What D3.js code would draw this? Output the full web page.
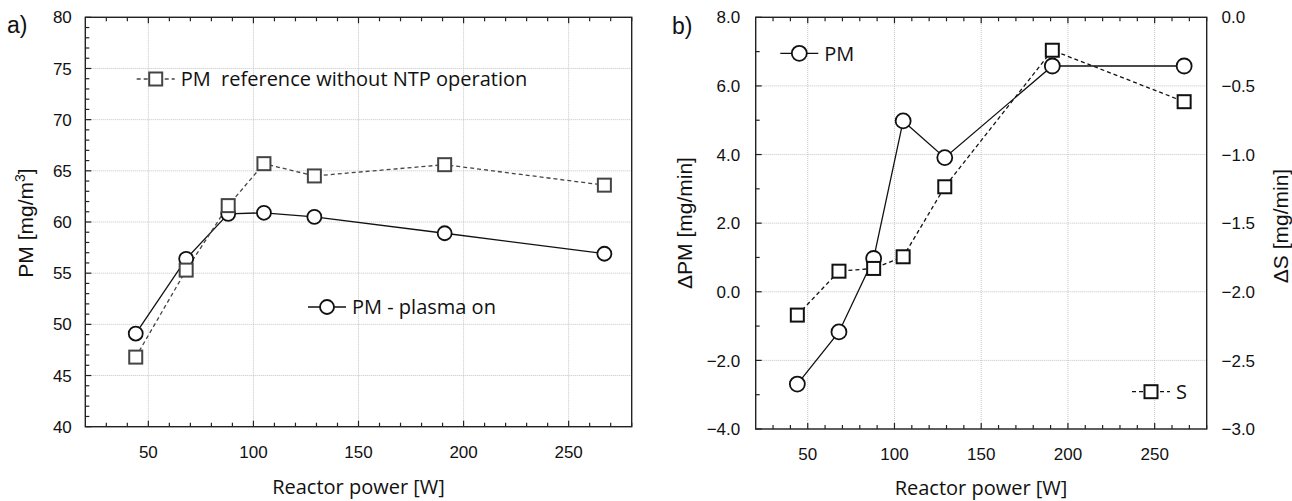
<!DOCTYPE html>
<html>
<head>
<meta charset="utf-8">
<script src="https://cdn.jsdelivr.net/npm/d3@7"></script>
<style>
  html, body { margin: 0; padding: 0; background: #fff; }
  svg { display: block; }
  .tick-label { font-family: "Liberation Sans", Arial, sans-serif; font-size: 17px; fill: #111; }
  .ytitle { font-family: "Liberation Sans", Arial, sans-serif; font-size: 21px; fill: #111; }
  .xtitle, .legend { font-family: "Open Sans", sans-serif; font-size: 20px; fill: #111; white-space: pre; }
  .panel { font-family: "Liberation Sans", Arial, sans-serif; font-size: 23px; fill: #111; }
</style>
</head>
<body>
<svg id="chart" width="1292" height="501"></svg>
<script>
// ---------- data ----------
const power = [44, 68, 88, 105, 129, 191, 267];
const pmReference = [46.8, 55.3, 61.6, 65.7, 64.5, 65.6, 63.6];
const pmPlasmaOn = [49.1, 56.4, 60.8, 60.9, 60.5, 58.9, 56.9];
const deltaPM = [-2.69, -1.17, 0.97, 4.98, 3.91, 6.58, 6.58];
const deltaS = [-2.17, -1.85, -1.83, -1.745, -1.235, -0.24, -0.615];

const xTicks = [50, 100, 150, 200, 250];
const yTicksA = [40, 45, 50, 55, 60, 65, 70, 75, 80];
const yTicksBLeft = [-4, -2, 0, 2, 4, 6, 8];
const yTicksBRight = [-3, -2.5, -2, -1.5, -1, -0.5, 0];

const svg = d3.select("#chart");

function drawPanel(opts) {
  const { x, y, yTicks, yFmt, yMinor, labelGapL } = opts;
  const g = svg.append("g");
  const [x0, x1] = x.range();
  const [yb, yt] = y.range();
  const grid = g.append("g").attr("stroke", "#c4c4c4").attr("stroke-width", 1).attr("stroke-dasharray", "1,1");
  xTicks.forEach(t => grid.append("line").attr("x1", x(t)).attr("x2", x(t)).attr("y1", yb).attr("y2", yt));
  yTicks.forEach(t => grid.append("line").attr("x1", x0).attr("x2", x1).attr("y1", y(t)).attr("y2", y(t)));

  // ticks inward: bottom & top
  const tk = g.append("g").attr("stroke", "#222").attr("stroke-width", 1.2);
  d3.range(30, 281, 10).forEach(v => {
    const len = v % 50 === 0 ? 6 : 4;
    tk.append("line").attr("x1", x(v)).attr("x2", x(v)).attr("y1", yb).attr("y2", yb - len);
    tk.append("line").attr("x1", x(v)).attr("x2", x(v)).attr("y1", yt).attr("y2", yt + len);
  });
  const [d0, d1] = y.domain();
  d3.range(d0, d1 + 1e-9, yMinor).forEach(v => {
    const major = yTicks.some(t => Math.abs(t - v) < 1e-6);
    const len = major ? 6 : 4;
    tk.append("line").attr("x1", x0).attr("x2", x0 + len).attr("y1", y(v)).attr("y2", y(v));
  });

  g.append("rect").attr("x", x0).attr("y", yt).attr("width", x1 - x0).attr("height", yb - yt)
    .attr("fill", "none").attr("stroke", "#222").attr("stroke-width", 1.4);

  xTicks.forEach(t => g.append("text").attr("class", "tick-label").attr("x", x(t)).attr("y", yb + 31)
    .attr("text-anchor", "middle").text(t));
  yTicks.forEach(t => g.append("text").attr("class", "tick-label").attr("x", x0 - labelGapL).attr("y", y(t))
    .attr("dy", "0.36em").attr("text-anchor", "end").text(yFmt(t)));
  return g;
}

function series(g, x, y, xs, ys, color, dashed) {
  const line = d3.line().x((d, i) => x(xs[i])).y(d => y(d));
  g.append("path").datum(ys).attr("d", line).attr("fill", "none").attr("stroke", color)
    .attr("stroke-width", 1.3).attr("stroke-dasharray", dashed ? "4,3" : null);
}
function markers(g, x, y, xs, ys, kind, color, size) {
  ys.forEach((d, i) => marker(g, x(xs[i]), y(d), kind, color, size));
}
function marker(g, cx, cy, kind, color, size) {
  if (kind === "circle") {
    g.append("circle").attr("cx", cx).attr("cy", cy).attr("r", size / 2)
      .attr("fill", "#fff").attr("stroke", color).attr("stroke-width", 1.8);
  } else {
    g.append("rect").attr("x", cx - size / 2).attr("y", cy - size / 2).attr("width", size).attr("height", size)
      .attr("fill", "#fff").attr("stroke", color).attr("stroke-width", 2);
  }
}
function legendItem(g, cx, cy, kind, color, dashed, size, label) {
  g.append("line").attr("x1", cx - 19).attr("x2", cx + 19).attr("y1", cy).attr("y2", cy)
    .attr("stroke", color).attr("stroke-width", 1.3).attr("stroke-dasharray", dashed ? "4,3" : null);
  marker(g, cx, cy, kind, color, size);
  g.append("text").attr("class", "legend").attr("x", cx + 25).attr("y", cy).attr("dy", "0.36em").text(label);
}

// ---------- panel a ----------
const xA = d3.scaleLinear().domain([20, 280]).range([85.3, 631.7]);
const yA = d3.scaleLinear().domain([40, 80]).range([426.7, 17.3]);
const gA = drawPanel({ x: xA, y: yA, yTicks: yTicksA, yFmt: d => d, yMinor: 1, labelGapL: 13.5 });
series(gA, xA, yA, power, pmPlasmaOn, "#111", false);
series(gA, xA, yA, power, pmReference, "#444", true);
markers(gA, xA, yA, power, pmPlasmaOn, "circle", "#111", 14);
markers(gA, xA, yA, power, pmReference, "square", "#444", 13);
legendItem(gA, 155.7, 79, "square", "#444", true, 13, "PM  reference without NTP operation");
legendItem(gA, 327, 307, "circle", "#111", false, 14, "PM - plasma on");

svg.append("text").attr("class", "panel").attr("x", 7).attr("y", 33).text("a)");
const tA = svg.append("text").attr("class", "ytitle").attr("transform", "translate(25,223) rotate(-90)")
  .attr("text-anchor", "middle").attr("dy", "0.36em");
tA.append("tspan").text("PM [mg/m");
tA.append("tspan").attr("baseline-shift", "super").attr("font-size", "14px").text("3");
tA.append("tspan").text("]");
svg.append("text").attr("class", "xtitle").attr("x", 358.5).attr("y", 494).attr("text-anchor", "middle").text("Reactor power [W]");

// ---------- panel b ----------
const xB = d3.scaleLinear().domain([20, 280]).range([755.7, 1206.7]);
const yBL = d3.scaleLinear().domain([-4, 8]).range([429, 17.3]);
const yBR = d3.scaleLinear().domain([-3, 0]).range([429, 17.3]);
const gB = drawPanel({ x: xB, y: yBL, yTicks: yTicksBLeft, yFmt: d3.format(".1f"), yMinor: 1, labelGapL: 15.5 });
yTicksBRight.forEach(t => gB.append("text").attr("class", "tick-label").attr("x", 1221.5).attr("y", yBR(t))
  .attr("dy", "0.36em").attr("text-anchor", "start").text(d3.format(".1f")(t)));
series(gB, xB, yBL, power, deltaPM, "#111", false);
series(gB, xB, yBR, power, deltaS, "#111", true);
markers(gB, xB, yBL, power, deltaPM, "circle", "#111", 15);
markers(gB, xB, yBR, power, deltaS, "square", "#111", 13);
legendItem(gB, 799.3, 53.3, "circle", "#111", false, 15, "PM");
legendItem(gB, 1151, 391.7, "square", "#111", true, 13, "S");

svg.append("text").attr("class", "panel").attr("x", 672).attr("y", 34).text("b)");
svg.append("text").attr("class", "ytitle").attr("transform", "translate(684,223) rotate(-90)")
  .attr("text-anchor", "middle").attr("dy", "0.36em").text("\u0394PM [mg/min]");
svg.append("text").attr("class", "ytitle").attr("transform", "translate(1280,226) rotate(-90)")
  .attr("text-anchor", "middle").attr("dy", "0.36em").text("\u0394S [mg/min]");
svg.append("text").attr("class", "xtitle").attr("x", 981).attr("y", 495).attr("text-anchor", "middle").text("Reactor power [W]");
</script>
</body>
</html>
